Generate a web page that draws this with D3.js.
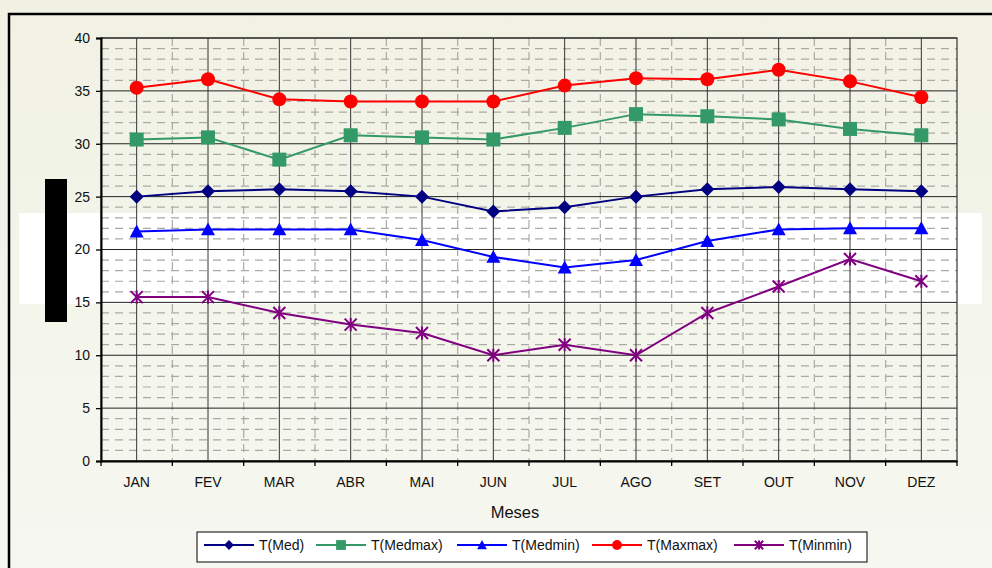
<!DOCTYPE html>
<html>
<head>
<meta charset="utf-8">
<script src="https://cdn.jsdelivr.net/npm/d3@7"></script>
<style>
  html, body { margin: 0; padding: 0; background: #f3f4e9; }
  svg { display: block; font-family: "Liberation Sans", Arial, sans-serif; }
</style>
</head>
<body>
<svg id="chart" width="992" height="568"></svg>
<script>
// Monthly temperatures (°C)
const months = ["JAN", "FEV", "MAR", "ABR", "MAI", "JUN", "JUL", "AGO", "SET", "OUT", "NOV", "DEZ"];
const tMed    = [25.0, 25.5, 25.7, 25.5, 25.0, 23.6, 24.0, 25.0, 25.7, 25.9, 25.7, 25.5];
const tMedmax = [30.4, 30.6, 28.5, 30.8, 30.6, 30.4, 31.5, 32.8, 32.6, 32.3, 31.4, 30.8];
const tMedmin = [21.7, 21.9, 21.9, 21.9, 20.9, 19.3, 18.3, 19.0, 20.8, 21.9, 22.0, 22.0];
const tMaxmax = [35.3, 36.1, 34.2, 34.0, 34.0, 34.0, 35.5, 36.2, 36.1, 37.0, 35.9, 34.4];
const tMinmin = [15.5, 15.5, 14.0, 12.9, 12.1, 10.0, 11.0, 10.0, 14.0, 16.5, 19.1, 17.0];
const yTicks = [0, 5, 10, 15, 20, 25, 30, 35, 40];

const series = [
  { name: "T(Med)",    values: tMed,    color: "#000080", marker: "diamond" },
  { name: "T(Medmax)", values: tMedmax, color: "#339966", marker: "square" },
  { name: "T(Medmin)", values: tMedmin, color: "#0000ff", marker: "triangle" },
  { name: "T(Maxmax)", values: tMaxmax, color: "#ff0000", marker: "circle" },
  { name: "T(Minmin)", values: tMinmin, color: "#800080", marker: "star" }
];

const svg = d3.select("#chart");
const W = 992, H = 568;
const plot = { left: 101, top: 38, right: 957, bottom: 461 };

// Background with soft light band
const defs = svg.append("defs");
const grad = defs.append("linearGradient").attr("id", "bg").attr("x1", 0).attr("y1", 0).attr("x2", 0).attr("y2", 1);
grad.append("stop").attr("offset", "0%").attr("stop-color", "#f1f2e4");
grad.append("stop").attr("offset", "100%").attr("stop-color", "#f6f7f0");
svg.append("rect").attr("width", W).attr("height", H).attr("fill", "url(#bg)");
svg.append("rect").attr("x", 19).attr("y", 213).attr("width", 963).attr("height", 91).attr("fill", "#ffffff");

// Outer frame
svg.append("path")
  .attr("d", `M9,${H + 5} L9,14 L${W + 5},14`)
  .attr("fill", "none").attr("stroke", "#000").attr("stroke-width", 2.5);

// Scales
const x = d3.scaleBand().domain(months).range([plot.left, plot.right]).padding(0);
const y = d3.scaleLinear().domain([0, 40]).range([plot.bottom, plot.top]);
const xc = m => x(m) + x.bandwidth() / 2;

const grid = svg.append("g");
const minorStyle = sel => sel.attr("stroke", "#aaaaa4").attr("stroke-width", 1.2).attr("stroke-dasharray", "8,6");
// Minor horizontal grid (every 1 unit)
d3.range(1, 40).filter(v => v % 5 !== 0).forEach(v => {
  grid.append("line")
    .attr("x1", plot.left).attr("x2", plot.right)
    .attr("y1", y(v)).attr("y2", y(v))
    .call(minorStyle);
});
// Minor vertical grid at band edges
months.slice(1).forEach(m => {
  grid.append("line")
    .attr("x1", x(m)).attr("x2", x(m))
    .attr("y1", plot.top).attr("y2", plot.bottom)
    .call(minorStyle);
});
// Major horizontal grid
yTicks.forEach(v => {
  grid.append("line")
    .attr("x1", plot.left).attr("x2", plot.right)
    .attr("y1", y(v)).attr("y2", y(v))
    .attr("stroke", "#222").attr("stroke-width", 1);
});
// Major vertical grid through category centres
months.forEach(m => {
  grid.append("line")
    .attr("x1", xc(m)).attr("x2", xc(m))
    .attr("y1", plot.top).attr("y2", plot.bottom)
    .attr("stroke", "#333").attr("stroke-width", 1);
});
// Plot border
svg.append("rect")
  .attr("x", plot.left).attr("y", plot.top)
  .attr("width", plot.right - plot.left).attr("height", plot.bottom - plot.top)
  .attr("fill", "none").attr("stroke", "#333").attr("stroke-width", 1.2);

// Axes
const yAxis = svg.append("g")
  .attr("transform", `translate(${plot.left},0)`)
  .call(d3.axisLeft(y).tickValues(yTicks).tickSize(5).tickPadding(6));
yAxis.select(".domain").attr("stroke", "#000").attr("stroke-width", 2);
yAxis.selectAll(".tick line").attr("stroke", "#000").attr("stroke-width", 1.3);
yAxis.selectAll("text").attr("font-size", 14).attr("fill", "#111").attr("font-family", "Liberation Sans, Arial, sans-serif");

const xAxis = svg.append("g")
  .attr("transform", `translate(0,${plot.bottom})`)
  .call(d3.axisBottom(x).tickSize(0).tickPadding(16));
xAxis.select(".domain").attr("stroke", "#000").attr("stroke-width", 2);
xAxis.selectAll("text").attr("font-size", 14).attr("fill", "#111").attr("font-family", "Liberation Sans, Arial, sans-serif");
// Tick marks at band boundaries
months.map(m => x(m)).concat([plot.right]).forEach(px => {
  svg.append("line")
    .attr("x1", px).attr("x2", px)
    .attr("y1", plot.bottom).attr("y2", plot.bottom + 5)
    .attr("stroke", "#000").attr("stroke-width", 1.3);
});

// Axis title
svg.append("text")
  .attr("x", 515).attr("y", 518)
  .attr("text-anchor", "middle")
  .attr("font-size", 16.5).attr("fill", "#111")
  .text("Meses");

// Marker drawing
function drawMarker(g, type, cx, cy, color, scale = 1) {
  if (type === "circle") {
    g.append("circle").attr("cx", cx).attr("cy", cy).attr("r", 7 * scale).attr("fill", color);
  } else if (type === "square") {
    const s = 14 * scale;
    g.append("rect").attr("x", cx - s / 2).attr("y", cy - s / 2).attr("width", s).attr("height", s).attr("fill", color);
  } else if (type === "diamond") {
    const s = 7 * scale;
    g.append("path").attr("d", `M${cx},${cy - s}L${cx + s},${cy}L${cx},${cy + s}L${cx - s},${cy}Z`).attr("fill", color);
  } else if (type === "triangle") {
    const s = 7 * scale;
    g.append("path").attr("d", `M${cx},${cy - s}L${cx + s},${cy + s * 0.85}L${cx - s},${cy + s * 0.85}Z`).attr("fill", color);
  } else if (type === "star") {
    const s = 6 * scale;
    g.append("path")
      .attr("d", `M${cx - s},${cy - s}L${cx + s},${cy + s}M${cx - s},${cy + s}L${cx + s},${cy - s}M${cx},${cy - s * 1.1}L${cx},${cy + s * 1.1}`)
      .attr("stroke", color).attr("stroke-width", 2).attr("fill", "none");
  }
}

// Series lines and markers
const line = d3.line().x((d, i) => xc(months[i])).y(d => y(d));
series.forEach(s => {
  const g = svg.append("g");
  g.append("path").datum(s.values)
    .attr("d", line).attr("fill", "none")
    .attr("stroke", s.color).attr("stroke-width", 2);
  s.values.forEach((v, i) => drawMarker(g, s.marker, xc(months[i]), y(v), s.color));
});

// Legend
const legend = svg.append("g");
legend.append("rect")
  .attr("x", 197).attr("y", 532).attr("width", 670).attr("height", 30)
  .attr("fill", "#ffffff").attr("stroke", "#000").attr("stroke-width", 1);
const legendX = [204, 316, 457, 592, 734];
series.forEach((s, i) => {
  const lx = legendX[i], ly = 545;
  legend.append("line").attr("x1", lx).attr("x2", lx + 50).attr("y1", ly).attr("y2", ly)
    .attr("stroke", s.color).attr("stroke-width", 2);
  drawMarker(legend, s.marker, lx + 25, ly, s.color, 0.7);
  legend.append("text").attr("x", lx + 55).attr("y", ly + 5)
    .attr("font-size", 14).attr("fill", "#111").text(s.name);
});

// Label block beside the value axis
svg.append("rect").attr("x", 45).attr("y", 179).attr("width", 22).attr("height", 143).attr("fill", "#000");
</script>
</body>
</html>
